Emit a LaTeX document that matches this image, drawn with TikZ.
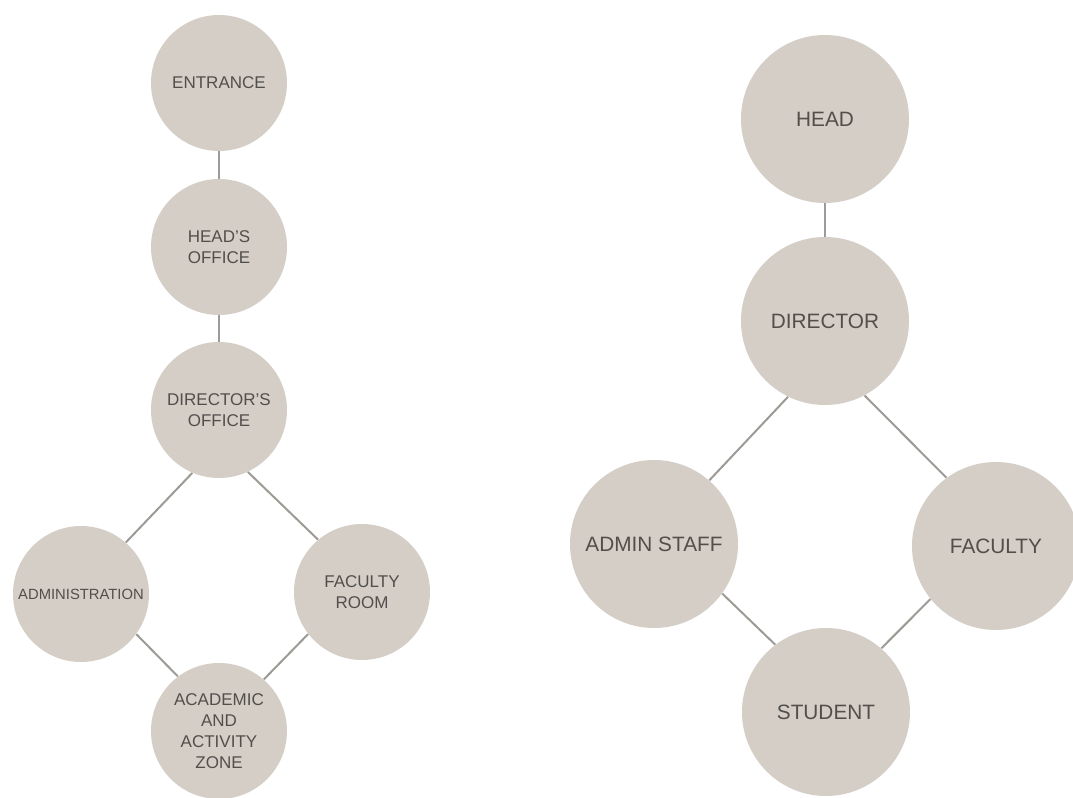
\documentclass[tikz,border=0pt]{standalone}
\usepackage{fontspec}
\setmainfont{Liberation Sans}
\definecolor{discfill}{RGB}{212,206,199}
\definecolor{labelgray}{RGB}{82,78,74}
\definecolor{linkgray}{RGB}{158,155,151}

\begin{document}
\begin{tikzpicture}[x=0.5pt, y=-0.5pt,
    room/.style={circle, fill=discfill, text=labelgray, inner sep=0pt, minimum size=68pt,
        align=center, font=\fontsize{8.5}{10.4}\selectfont},
    role/.style={circle, fill=discfill, text=labelgray, inner sep=0pt, minimum size=84pt,
        align=center, font=\fontsize{10.4}{12.5}\selectfont},
    link/.style={draw=linkgray, line width=1pt}]
    \useasboundingbox[fill=white] (0,0) rectangle (1073,798);

    % spaces
    \node[room] (entrance) at (219,83) {ENTRANCE};
    \node[room] (headoffice) at (219,247) {HEAD'S\\OFFICE};
    \node[room] (diroffice) at (219,410) {DIRECTOR'S\\OFFICE};
    \node[room, font=\fontsize{7.4}{9}\selectfont] (admin) at (81,594) {ADMINISTRATION};
    \node[room] (facroom) at (362,592) {FACULTY\\ROOM};
    \node[room] (zone) at (219,731) {ACADEMIC\\AND\\ACTIVITY\\ZONE};

    \draw[link] (entrance.south) -- (headoffice.north);
    \draw[link] (headoffice.south) -- (diroffice.north);
    \draw[link] (diroffice.-113) -- (admin.49);
    \draw[link] (diroffice.-65) -- (facroom.130);
    \draw[link] (admin.-36) -- (zone.127);
    \draw[link] (facroom.-142) -- (zone.49);

    % people
    \node[role] (head) at (825,119) {HEAD};
    \node[role] (director) at (825,321) {DIRECTOR};
    \node[role] (staff) at (654,544) {ADMIN STAFF};
    \node[role] (faculty) at (996,546) {FACULTY};
    \node[role] (student) at (826,712) {STUDENT};

    \draw[link] (head.south) -- (director.north);
    \draw[link] (director.-116) -- (staff.49);
    \draw[link] (director.-62) -- (faculty.126);
    \draw[link] (staff.-36) -- (student.127);
    \draw[link] (faculty.-141) -- (student.49);
\end{tikzpicture}
\end{document}
